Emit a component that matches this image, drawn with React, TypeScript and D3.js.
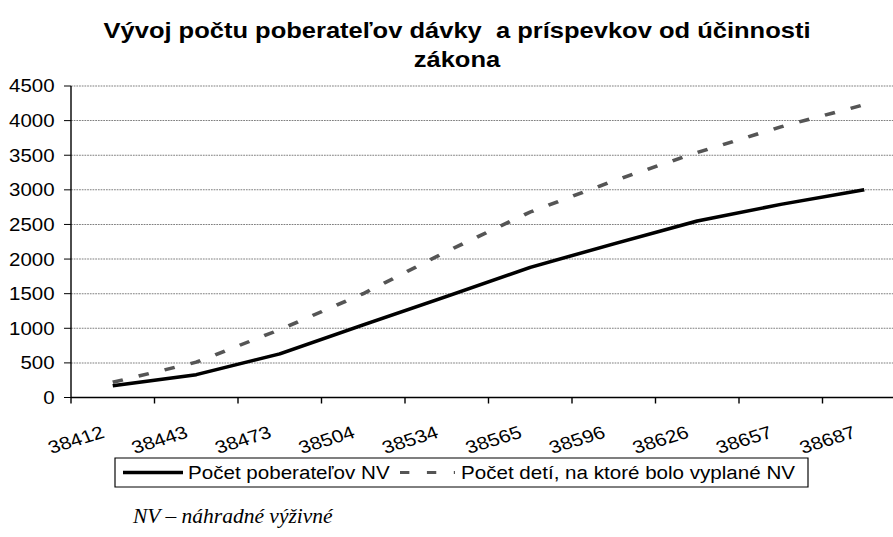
import React from 'react';
import * as d3 from 'd3';

const categories = ['38412', '38443', '38473', '38504', '38534', '38565', '38596', '38626', '38657', '38687'];
const recipients = [170, 330, 630, 1050, 1460, 1880, 2220, 2550, 2790, 3000];
const children = [220, 510, 980, 1500, 2110, 2680, 3130, 3540, 3910, 4230];
const yTicks = [0, 500, 1000, 1500, 2000, 2500, 3000, 3500, 4000, 4500];

const seriesNames = ['Počet poberateľov NV', 'Počet detí, na ktoré bolo vyplané NV'];
const titleLines = ['Vývoj počtu poberateľov dávky  a príspevkov od účinnosti', 'zákona'];

// the source picture is stretched sideways, so the chart is drawn narrower and scaled
const SX = 1.17;
const W = 893;
const H = 537;
const font = 'Liberation Sans, Arial, sans-serif';

export default function App() {
  const left = 71 / SX;
  const step = 83.5 / SX;

  const x = d3.scaleBand<string>()
    .domain(categories)
    .range([left, left + step * categories.length])
    .paddingInner(0)
    .paddingOuter(0);
  const y = d3.scaleLinear().domain([0, 4500]).range([397.5, 86]);

  const cx = (c: string) => (x(c) || 0) + x.bandwidth() / 2;

  const line = d3.line<number>()
    .x((_, i) => cx(categories[i]))
    .y((d) => y(d));

  const tickXs = categories.map((c) => x(c) || 0).concat([left + step * categories.length]);

  return (
    <svg width={W} height={H} style={{ position: 'absolute', left: 0, top: 0, background: '#fff' }}>
      <g transform={`scale(${SX},1)`}>
        {titleLines.map((t, i) => (
          <text key={t} x={457 / SX} y={38 + i * 29} textAnchor="middle" style={{ whiteSpace: 'pre' }}
            fontFamily={font} fontWeight="bold" fontSize={21.8} fill="#000">{t}</text>
        ))}

        {yTicks.map((t) => (
          <line key={'g' + t} x1={left} x2={W / SX + 40} y1={y(t)} y2={y(t)}
            stroke="#808080" strokeWidth={1} strokeDasharray="1.5,0.8" />
        ))}

        {yTicks.map((t) => (
          <g key={'y' + t}>
            <line x1={left - 6} x2={left} y1={y(t)} y2={y(t)} stroke="#000" strokeWidth={1} />
            <text x={left - 14} y={y(t) + 6.5} textAnchor="end" fontFamily={font} fontSize={17.5} fill="#000">{t}</text>
          </g>
        ))}

        <line x1={left} x2={left} y1={y(4500)} y2={y(0)} stroke="#000" strokeWidth={1.2} />
        <line x1={left} x2={W / SX + 40} y1={y(0)} y2={y(0)} stroke="#000" strokeWidth={1.6} />
        {tickXs.map((tx, i) => (
          <line key={'xt' + i} x1={tx} x2={tx} y1={y(0)} y2={y(0) + 6} stroke="#000" strokeWidth={1.2} />
        ))}

        {categories.map((c) => {
          const ax = cx(c) - 6;
          const ay = 437;
          return (
            <text key={c} x={ax} y={ay} textAnchor="end" transform={`rotate(-20,${ax},${ay})`}
              fontFamily={font} fontSize={17.8} fill="#000">{c}</text>
          );
        })}

        <path d={line(recipients) || ''} fill="none" stroke="#000" strokeWidth={3.5} strokeLinejoin="round" />
        <path d={line(children) || ''} fill="none" stroke="#555" strokeWidth={3.5} strokeDasharray="9,14" />

        <rect x={115 / SX} y={458} width={(808 - 115) / SX} height={29} fill="#fff" stroke="#000" strokeWidth={1} />
        <line x1={123 / SX} x2={183 / SX} y1={472.5} y2={472.5} stroke="#000" strokeWidth={3.5} />
        <text x={188 / SX} y={479} fontFamily={font} fontSize={17.6} fill="#000">{seriesNames[0]}</text>
        <line x1={400 / SX} x2={455 / SX} y1={472.5} y2={472.5} stroke="#555" strokeWidth={3} strokeDasharray="8,15" />
        <text x={461 / SX} y={479} fontFamily={font} fontSize={17.6} fill="#000">{seriesNames[1]}</text>
      </g>

      <text x={133} y={523} fontFamily="Liberation Serif, Times New Roman, serif" fontStyle="italic" fontSize={21.5} fill="#000">
        NV – náhradné výživné
      </text>
    </svg>
  );
}
